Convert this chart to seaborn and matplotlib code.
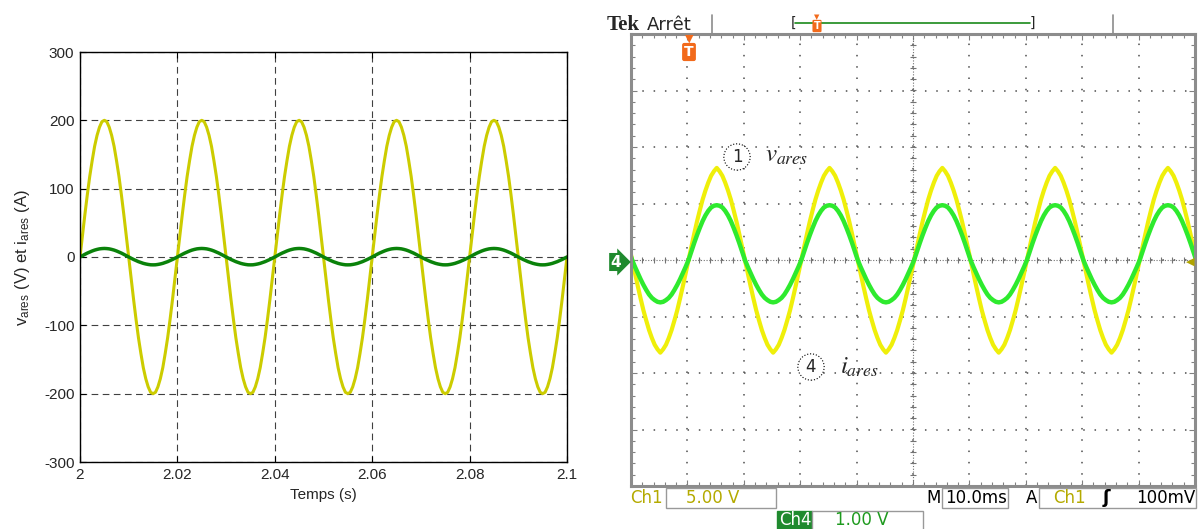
import numpy as np
import matplotlib
matplotlib.use("Agg")
import matplotlib.pyplot as plt
import seaborn as sns
from matplotlib.lines import Line2D
from matplotlib.patches import Rectangle
from matplotlib.ticker import MultipleLocator

# ---- simulation (left): one period, 0.5 ms step, from t = 2 s
sim_t_start = 2.0
sim_dt = 0.0005
n_periods = 5
sim_v_period = [0, 31, 62, 91, 118, 141, 162, 178, 190, 198,
                200, 198, 190, 178, 162, 141, 118, 91, 62, 31,
                0, -31, -62, -91, -118, -141, -162, -178, -190, -198,
                -200, -198, -190, -178, -162, -141, -118, -91, -62, -31]
sim_i_period = [0, 2.0, 3.9, 5.7, 7.3, 8.8, 10.1, 11.1, 11.9, 12.3,
                12.5, 12.3, 11.9, 11.1, 10.1, 8.8, 7.3, 5.7, 3.9, 2.0,
                0, -1.8, -3.6, -5.2, -6.8, -8.1, -9.3, -10.2, -10.9, -11.4,
                -11.5, -11.4, -10.9, -10.2, -9.3, -8.1, -6.8, -5.2, -3.6, -1.8]
sim_xticks = [2.0, 2.02, 2.04, 2.06, 2.08, 2.1]
sim_xticklabels = ["2", "2.02", "2.04", "2.06", "2.08", "2.1"]
sim_yticks = [-300, -200, -100, 0, 100, 200, 300]
sim_yticklabels = ["-300", "-200", "-100", "0", "100", "200", "300"]

# ---- oscilloscope (right): one period in divisions, 0.5 ms step, first sample at 0.2 ms
scope_t0 = 0.2
scope_dt = 0.5
scope_ch1_period = [0, -0.23, -0.46, -0.68, -0.89, -1.07, -1.24, -1.38, -1.50, -1.58,
                    -1.64, -1.58, -1.50, -1.38, -1.24, -1.07, -0.89, -0.68, -0.46, -0.23,
                    0, 0.23, 0.46, 0.68, 0.88, 1.07, 1.23, 1.37, 1.49, 1.57,
                    1.63, 1.57, 1.49, 1.37, 1.23, 1.07, 0.88, 0.68, 0.46, 0.23]
scope_ch4_period = [0, -0.12, -0.23, -0.34, -0.44, -0.53, -0.61, -0.67, -0.71, -0.74,
                    -0.75, -0.74, -0.71, -0.67, -0.61, -0.53, -0.44, -0.34, -0.23, -0.12,
                    0, 0.15, 0.30, 0.44, 0.57, 0.69, 0.79, 0.87, 0.93, 0.96,
                    0.97, 0.96, 0.93, 0.87, 0.79, 0.69, 0.57, 0.44, 0.30, 0.15]

# build series by repeating the read period
sim_v = np.append(np.tile(sim_v_period, n_periods), sim_v_period[0])
sim_i = np.append(np.tile(sim_i_period, n_periods), sim_i_period[0])
sim_t = sim_t_start + sim_dt * np.arange(len(sim_v))

k = np.arange(-40, 201)
scope_t = scope_t0 + scope_dt * k
scope_ch1 = np.array(scope_ch1_period)[k % 40]
scope_ch4 = np.array(scope_ch4_period)[k % 40]

sns.set_theme(style="white")
plt.rcParams["font.family"] = ["Liberation Sans", "DejaVu Sans"]
plt.rcParams["mathtext.fontset"] = "stix"
plt.rcParams["axes.unicode_minus"] = False

W, H = 1199, 529
def fx(px):
    return px / W
def fy(py):
    return 1 - py / H

fig = plt.figure(figsize=(W / 100, H / 100), dpi=100)
fig.patch.set_facecolor("white")

# ================= left : simulation =================
ax1 = fig.add_axes([fx(80), fy(462), 487 / W, 410 / H])
sns.lineplot(x=sim_t, y=sim_v, ax=ax1, color="#cccc00", lw=2.2)
sns.lineplot(x=sim_t, y=sim_i, ax=ax1, color="#0a820a", lw=2.5)
ax1.set_xlim(2.0, 2.1)
ax1.set_ylim(-300, 300)
ax1.set_xticks(sim_xticks)
ax1.set_xticklabels(sim_xticklabels)
ax1.set_yticks(sim_yticks)
ax1.set_yticklabels(sim_yticklabels)
ax1.grid(True, color="0.25", ls=(0, (6, 4)), lw=0.8)
ax1.tick_params(direction="in", top=True, right=True, bottom=True, left=True,
                length=4, width=0.8, color="black", labelsize=11, pad=4)
for s in ax1.spines.values():
    s.set_color("black")
    s.set_linewidth(1.0)
ax1.set_xlabel("Temps (s)", fontsize=11)
ax1.set_ylabel(r"v$_{\mathregular{ares}}$ (V) et i$_{\mathregular{ares}}$ (A)", fontsize=12)
ax1.xaxis.set_label_coords(0.5, -0.063)
ax1.yaxis.set_label_coords(-0.099, 0.5)

# ================= right : oscilloscope =================
ax2 = fig.add_axes([fx(631), fy(486), 564 / W, 452 / H])
sns.lineplot(x=scope_t, y=scope_ch1, ax=ax2, color="#efef0a", lw=3.0)
sns.lineplot(x=scope_t, y=scope_ch4, ax=ax2, color="#2eea2e", lw=3.2)
ax2.set_xlim(0, 100)
ax2.set_ylim(-4, 4)
ax2.xaxis.set_major_locator(MultipleLocator(10))
ax2.xaxis.set_minor_locator(MultipleLocator(2))
ax2.yaxis.set_major_locator(MultipleLocator(1))
ax2.yaxis.set_minor_locator(MultipleLocator(0.2))
ax2.tick_params(which="both", direction="in", top=True, right=True, bottom=True, left=True,
                color="0.5", labelbottom=False, labelleft=False)
ax2.tick_params(which="major", length=4, width=0.8)
ax2.tick_params(which="minor", length=3, width=0.8)
ax2.grid(True, which="major", color="0.3", ls=(0, (1, 6.4)), lw=1.1)
ax2.set_axisbelow(True)
ax2.axhline(0, color="0.45", lw=0.8, ls=(0, (1, 1.5)), zorder=1)
ax2.axvline(50, color="0.45", lw=0.8, ls=(0, (1, 1.5)), zorder=1)
cx = np.arange(0, 100.1, 2)
cy = np.arange(-4, 4.01, 0.2)
ax2.plot(cx, np.zeros_like(cx), ls="none", marker="|", ms=5, mew=0.8, color="0.45", zorder=1)
ax2.plot(np.full_like(cy, 50), cy, ls="none", marker="_", ms=5, mew=0.8, color="0.45", zorder=1)
ax2.set_xlabel("")
ax2.set_ylabel("")
for s in ax2.spines.values():
    s.set_color("0.55")
    s.set_linewidth(2.2)

# header
fig.text(fx(607), fy(30), "Tek", family=["Liberation Serif", "DejaVu Serif"],
         fontweight="bold", fontsize=15, va="baseline")
fig.text(fx(647), fy(30), "Arrêt", family=["DejaVu Sans"], fontsize=13, va="baseline")
for xp in (712, 1113):
    fig.add_artist(Line2D([fx(xp), fx(xp)], [fy(15), fy(34)], color="0.55", lw=1.2))
fig.add_artist(Line2D([fx(795), fx(1030)], [fy(23), fy(23)], color="#1a8a1a", lw=1.2))
fig.text(fx(793), fy(23), "[", fontsize=10, ha="center", va="center", family=["DejaVu Sans"])
fig.text(fx(1032), fy(23), "]", fontsize=10, ha="center", va="center", family=["DejaVu Sans"])
orange = "#f26a1b"
fig.text(fx(817), fy(17), "▼", color=orange, fontsize=5, ha="center", va="center", family=["DejaVu Sans"])
fig.text(fx(817), fy(26), "T", color="white", fontsize=7, fontweight="bold", ha="center", va="center",
         family=["DejaVu Sans"], bbox=dict(boxstyle="round,pad=0.12", fc=orange, ec="none"))
fig.text(fx(689), fy(39), "▼", color=orange, fontsize=8, ha="center", va="center", family=["DejaVu Sans"])
fig.text(fx(689), fy(52), "T", color="white", fontsize=10, fontweight="bold", ha="center", va="center",
         family=["DejaVu Sans"], bbox=dict(boxstyle="round,pad=0.15", fc=orange, ec="none"))

# ground markers
fig.text(fx(616), fy(262), "4", color="white", fontsize=11, fontweight="bold", ha="center", va="center",
         family=["DejaVu Sans"], bbox=dict(boxstyle="rarrow,pad=0.1", fc="#1f8a2e", ec="none"))
fig.text(fx(1190), fy(262), "◀", color="#b0a400", fontsize=8, ha="center", va="center", family=["DejaVu Sans"])

# trace labels
fig.text(fx(737), fy(157), "1", fontsize=12, ha="center", va="center", family=["DejaVu Sans"],
         bbox=dict(boxstyle="circle,pad=0.25", fc="white", ec="black", ls=":", lw=0.8))
fig.text(fx(765), fy(162), r"$v_{ares}$", fontsize=18, va="baseline")
fig.text(fx(811), fy(367), "4", fontsize=12, ha="center", va="center", family=["DejaVu Sans"],
         bbox=dict(boxstyle="circle,pad=0.25", fc="white", ec="black", ls=":", lw=0.8))
fig.text(fx(840), fy(374), r"$i_{ares}$", fontsize=18, va="baseline")

# bottom status line
def box(x0, y0, x1, y1, fc="white", ec="0.6"):
    fig.add_artist(Rectangle((fx(x0), fy(y1)), (x1 - x0) / W, (y1 - y0) / H,
                             transform=fig.transFigure, fc=fc, ec=ec, lw=1.0))

olive = "#b4aa00"
tek_font = ["DejaVu Sans"]
box(666, 488, 776, 508)
box(942, 488, 1008, 508)
box(1039, 488, 1196, 508)
box(777, 511, 812, 530, fc="#1f8a2e", ec="#1f8a2e")
box(812, 511, 923, 530)
fig.text(fx(630), fy(498), "Ch1", color=olive, fontsize=12, va="center", family=tek_font)
fig.text(fx(686), fy(498), "5.00 V", color=olive, fontsize=12, va="center", family=tek_font)
fig.text(fx(779), fy(520), "Ch4", color="white", fontsize=12, va="center", family=tek_font)
fig.text(fx(835), fy(520), "1.00 V", color="#1e9a1e", fontsize=12, va="center", family=tek_font)
fig.text(fx(926), fy(498), "M", color="black", fontsize=12, va="center", family=tek_font)
fig.text(fx(945), fy(498), "10.0ms", color="black", fontsize=12, va="center", family=tek_font)
fig.text(fx(1026), fy(498), "A", color="black", fontsize=12, va="center", family=tek_font)
fig.text(fx(1053), fy(498), "Ch1", color=olive, fontsize=12, va="center", family=tek_font)
fig.text(fx(1106), fy(498), "ʃ", color="black", fontsize=13, fontweight="bold", ha="center",
         va="center", family=tek_font)
fig.text(fx(1195), fy(498), "100mV", color="black", fontsize=12, ha="right", va="center", family=tek_font)

fig.savefig("out.png", dpi=100)
